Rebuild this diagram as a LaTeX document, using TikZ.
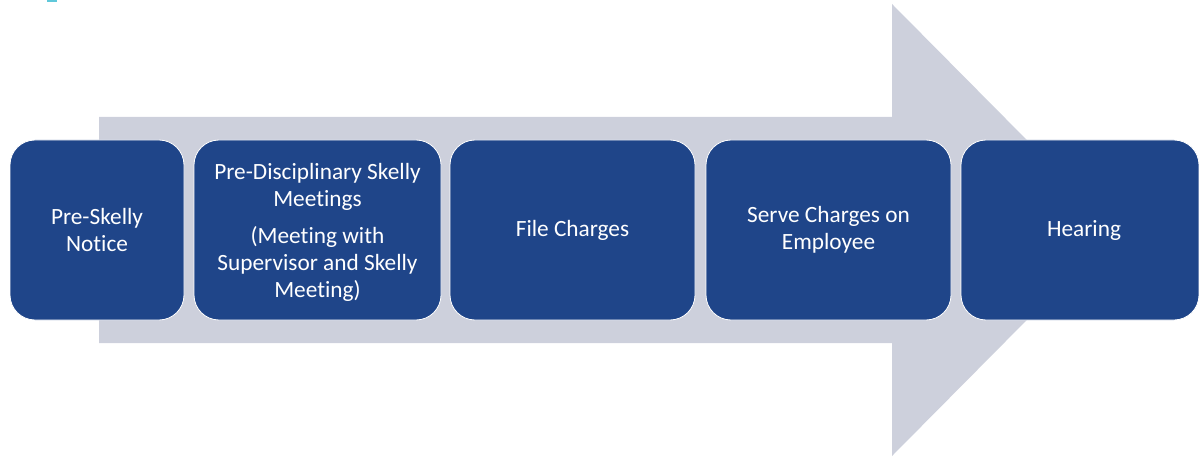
\documentclass[tikz,border=0pt]{standalone}
\usepackage{fontspec}
\setmainfont[Ligatures=NoCommon]{Carlito}
\definecolor{stepblue}{RGB}{31,69,137}
\definecolor{flowgray}{RGB}{205,208,220}
\definecolor{tick}{RGB}{96,200,218}
\begin{document}
\begin{tikzpicture}[x=1pt,y=-1pt,
  stepbox/.style={draw=white, line width=0.8pt, fill=stepblue, rounded corners=25pt,
    minimum height=180pt, text=white, align=center, inner sep=4pt,
    font=\fontsize{23.3}{27}\selectfont}]
\useasboundingbox (0,0) rectangle (1199,457);
% small accent mark
\fill[tick] (47,0) rectangle (57,2);
% background process arrow
\fill[flowgray] (99,117) -- (892,117) -- (892,4) -- (1116,230) -- (892,456)
  -- (892,343) -- (99,343) -- cycle;
% process steps
\node[stepbox, minimum width=174pt] (notice) at (97,230) {Pre-Skelly\\Notice};
\node[stepbox, minimum width=247pt] (meet) at (317.5,230)
  {\\[-5pt]Pre-Disciplinary Skelly\\Meetings\\[10pt](Meeting with\\Supervisor and Skelly\\Meeting)};
\node[stepbox, minimum width=245pt] (file) at (572.5,230) {File Charges};
\node[stepbox, minimum width=245pt] (serve) at (828.5,230) {Serve Charges on\\Employee};
\node[stepbox, minimum width=238pt] (hear) at (1080,230) {\hspace*{8pt}Hearing};
\end{tikzpicture}
\end{document}
